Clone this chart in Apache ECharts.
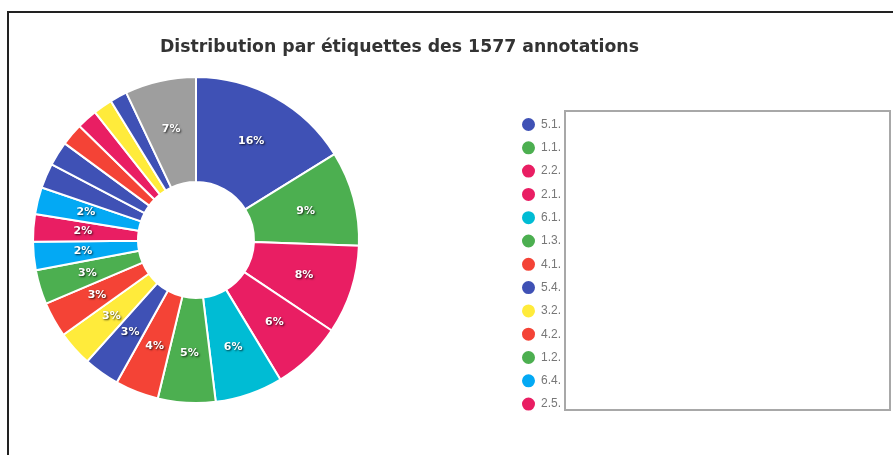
<!DOCTYPE html>
<html>
<head>
<meta charset="utf-8">
<script src="https://cdn.jsdelivr.net/npm/echarts@6/dist/echarts.min.js"></script>
<style>
  html, body { margin: 0; padding: 0; background: #fff; }
  #chart { width: 893px; height: 455px; }
</style>
</head>
<body>
<div id="chart"></div>
<script>
// labels (legend names are cut by the box, only the prefix shows)
var labels = ["5.1.", "1.1.", "2.2.", "2.1.", "6.1.", "1.3.", "4.1.", "5.4.", "3.2.", "4.2.", "1.2.",
    "6.4.", "2.5.", "6.2.", "5.2.", "5.3.", "4.3.", "2.3.", "3.1.", "5.5.", "Autres"];
// number of annotations per label (total 1577)
var counts = [255, 148, 139, 110, 106, 90, 68, 56, 55, 55, 54,
    44, 43, 42, 39, 38, 35, 32, 30, 27, 111];
var colors = ["#3f51b5", "#4caf50", "#e91e63", "#e91e63", "#00bcd4", "#4caf50", "#f44336", "#3f51b5",
    "#ffeb3b", "#f44336", "#4caf50", "#03a9f4", "#e91e63", "#03a9f4", "#3f51b5", "#3f51b5",
    "#f44336", "#e91e63", "#ffeb3b", "#3f51b5", "#9e9e9e"];
var titleText = "Distribution par étiquettes des 1577 annotations";

(function () {
    var pie = echarts.init(document.getElementById("chart")),
        data = labels.map(function (n, i) {
            return { name: n, value: counts[i] };
        }),
        option = {
            color: colors,
            title: {
                text: titleText,
                left: 155,
                top: 34,
                textStyle: {
                    fontFamily: "DejaVu Sans",
                    fontSize: 17.3,
                    fontWeight: "bold",
                    color: "#333"
                }
            },
            legend: {
                orient: "vertical",
                left: 515,
                top: 111,
                height: 700,
                itemWidth: 15,
                itemHeight: 15,
                itemGap: 6.3,
                icon: "circle",
                textStyle: {
                    fontFamily: "Liberation Sans",
                    fontSize: 12,
                    color: "#777"
                },
                data: labels
            },
            series: [{
                name: "Annotations",
                type: "pie",
                center: [196, 240],
                radius: [58, 163],
                startAngle: 90,
                clockwise: true,
                minShowLabelAngle: 9.2,
                avoidLabelOverlap: false,
                itemStyle: {
                    borderColor: "#fff",
                    borderWidth: 2
                },
                label: {
                    position: "inside",
                    formatter: function (p) {
                        return Math.floor(p.percent) + "%";
                    },
                    fontFamily: "DejaVu Sans",
                    fontSize: 11,
                    fontWeight: "bold",
                    color: "#fff",
                    textShadowColor: "rgba(0,0,0,0.75)",
                    textShadowBlur: 2,
                    textShadowOffsetX: 1,
                    textShadowOffsetY: 1
                },
                labelLine: { show: false },
                emphasis: { scale: false },
                data: data
            }],
            graphic: [
                // hides the legend items below the visible area
                { type: "rect", z: 100, shape: { x: 505, y: 421, width: 70, height: 40 },
                  style: { fill: "#fff" } },
                // empty box over the legend names
                { type: "rect", z: 100, shape: { x: 565, y: 111, width: 325, height: 299 },
                  style: { fill: "#fff", stroke: "#a8a8a8", lineWidth: 2 } },
                // outer frame
                { type: "polyline", z: 100, shape: { points: [[8, 460], [8, 12], [900, 12]] },
                  style: { fill: null, stroke: "#222", lineWidth: 2 } }
            ]
        };
    pie.setOption(option);
    window.addEventListener("resize", pie.resize);
})();
</script>
</body>
</html>
